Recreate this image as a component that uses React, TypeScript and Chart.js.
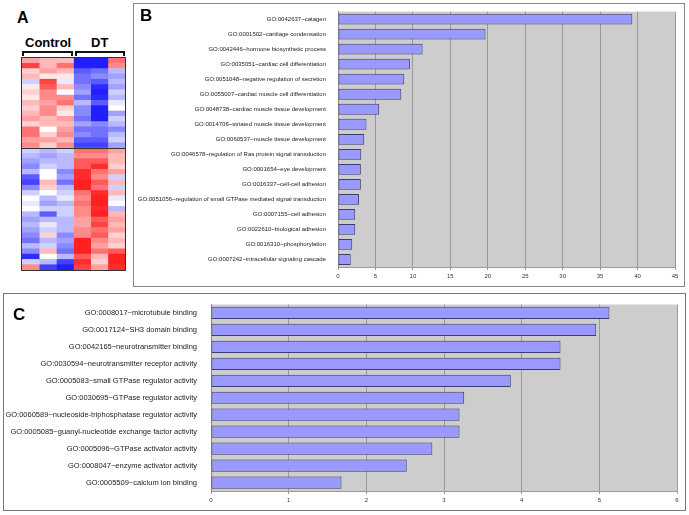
import React, { useEffect, useRef } from "react";
import { Chart, registerables } from "chart.js";
Chart.register(...registerables);

// ---- Panel B data ----
const bLabels = [
  "GO:0042637~catagen",
  "GO:0001502~cartilage condensation",
  "GO:0042446~hormone biosynthetic process",
  "GO:0035051~cardiac cell differentiation",
  "GO:0051048~negative regulation of secretion",
  "GO:0055007~cardiac muscle cell differentiation",
  "GO:0048738~cardiac muscle tissue development",
  "GO:0014706~striated muscle tissue development",
  "GO:0060537~muscle tissue development",
  "GO:0046578~regulation of Ras protein signal transduction",
  "GO:0001654~eye development",
  "GO:0016337~cell-cell adhesion",
  "GO:0051056~regulation of small GTPase mediated signal transduction",
  "GO:0007155~cell adhesion",
  "GO:0022610~biological adhesion",
  "GO:0016310~phosphorylation",
  "GO:0007242~intracellular signaling cascade",
];
const bValues = [39.3, 19.7, 11.3, 9.6, 8.85, 8.45, 5.5, 3.8, 3.5, 3.1, 3.05, 3.05, 2.8, 2.3, 2.3, 1.9, 1.7];
const bMax = 45;
const bStep = 5;

// ---- Panel C data ----
const cLabels = [
  "GO:0008017~microtubule binding",
  "GO:0017124~SH3 domain binding",
  "GO:0042165~neurotransmitter binding",
  "GO:0030594~neurotransmitter receptor activity",
  "GO:0005083~small GTPase regulator activity",
  "GO:0030695~GTPase regulator activity",
  "GO:0060589~nucleoside-triphosphatase regulator activity",
  "GO:0005085~guanyl-nucleotide exchange factor activity",
  "GO:0005096~GTPase activator activity",
  "GO:0008047~enzyme activator activity",
  "GO:0005509~calcium ion binding",
];
const cValues = [5.13, 4.96, 4.5, 4.5, 3.86, 3.26, 3.2, 3.2, 2.85, 2.52, 1.68];
const cMax = 6;
const cStep = 1;

// ---- Panel A heatmap (columns, rows top->bottom; -1 blue .. +1 red) ----
const heatColumns = ["Control 1", "Control 2", "Control 3", "DT 1", "DT 2", "DT 3"];
const control1 = [0.4, 0.8, 0.2, 0.3, -0.2, 0.1, 0.2, 0.1, 0.3, 0.2, 0.3, 0.4, 0.2, 0.6, 0.6, 0.4, 0.5,
  -0.2, -0.3, -0.4, -0.5, -0.3, -0.7, -0.8, -0.5, -0.2, 0, -0.1, 0, -0.3, -0.4, -0.3, -0.4, -0.5, -0.6, -0.3, -0.5, -0.9, -0.2, 0.5];
const control2 = [0.3, 0.3, 0.4, 0.1, 0.8, 0.7, 0.5, 0.5, 0.4, 0.5, 0.5, 0.3, 0.3, 0, 0.2, 0.4, 0.2,
  -0.3, -0.4, -0.3, -0.2, 0, 0, 0.3, 0.2, 0, -0.3, -0.4, -0.2, -0.7, -0.3, -0.1, -0.2, 0.2, -0.3, -0.2, 0.3, 0, -0.3, -0.8];
const control3 = [0.3, 0.6, 0.3, 0.1, -0.1, 0.3, 0, 0.5, 0.6, 0.2, 0.1, 0.4, 0.3, 0.4, 0.5, 0.3, 0.5,
  -0.2, -0.3, -0.3, -0.3, -0.5, -0.4, -0.6, -0.3, -0.2, -0.1, -0.3, -0.2, -0.2, -0.3, -0.3, -0.3, -0.5, -0.4, -0.5, -0.6, -0.3, -0.8, -0.95];
const dt1 = [-0.95, -0.95, -0.7, -0.6, -0.6, -0.5, -0.4, -0.6, -0.3, -0.5, -0.5, -0.6, -0.4, -0.6, -0.5, -0.7, -0.8,
  0.6, 0.5, 0.7, 0.7, 0.9, 0.9, 0.95, 0.95, 0.6, 0.5, 0.6, 0.5, 0.5, 0.4, 0.4, 0.5, 0.5, 0.95, 0.95, 0.95, 0.7, 0.9, 0.8];
const dt2 = [-0.95, -0.95, -0.6, -0.5, -0.7, -0.9, -0.95, -0.9, -0.7, -0.95, -0.95, -0.95, -0.5, -0.6, -0.6, -0.7, -0.8,
  0.6, 0.5, 0.7, 0.9, 0.6, 0.5, 0.7, 0.6, 0.9, 0.95, 0.95, 0.9, 0.95, 0.7, 0.8, 0.6, 0.7, 0.5, 0.4, 0.6, 0.3, 0.2, 0.4];
const dt3 = [0.6, 0.5, -0.3, -0.4, -0.3, -0.4, -0.2, -0.3, -0.1, 0, -0.4, -0.2, -0.3, -0.5, -0.3, -0.2, -0.4,
  0.4, 0.3, 0.3, 0.2, 0.4, -0.2, 0.3, -0.2, 0.3, -0.1, 0, -0.3, 0.3, 0.4, 0.3, 0.4, 0.2, 0.3, 0.2, 0.7, 0.95, 0.95, 0.9];
const heatSplitRow = 17;

const FONT = "'Liberation Sans', Arial, sans-serif";

function heatColor(v: number): string {
  if (v >= 0) {
    const g = Math.round(255 * (1 - v * 0.92));
    return `rgb(255,${g},${g})`;
  }
  const r = Math.round(255 * (1 + v * 0.92));
  return `rgb(${r},${r},255)`;
}

const plotBg = {
  id: "plotBg",
  beforeDraw(chart: any) {
    const { ctx, chartArea } = chart;
    if (!chartArea) return;
    ctx.save();
    ctx.fillStyle = "#cdcdcd";
    ctx.fillRect(chartArea.left, chartArea.top, chartArea.right - chartArea.left, chartArea.bottom - chartArea.top);
    ctx.restore();
  },
};

type HBarProps = {
  labels: string[];
  values: number[];
  max: number;
  step: number;
  width: number;
  height: number;
  yWidth: number;
  padTop: number;
  padRight: number;
  xHeight: number;
  labelSize: number;
  labelPad: number;
};

function HBar(p: HBarProps) {
  const ref = useRef<HTMLCanvasElement>(null);
  useEffect(() => {
    const chart = new Chart(ref.current!, {
      type: "bar",
      data: {
        labels: p.labels,
        datasets: [
          {
            data: p.values,
            backgroundColor: "#9999ff",
            borderColor: "#3c3c70",
            borderWidth: 1,
            borderSkipped: false,
            barPercentage: 0.72,
            categoryPercentage: 1,
          },
        ],
      },
      options: {
        indexAxis: "y",
        animation: false,
        responsive: false,
        layout: { padding: { top: p.padTop, right: p.padRight, left: 0, bottom: 0 } },
        plugins: { legend: { display: false }, tooltip: { enabled: false } },
        scales: {
          x: {
            min: 0,
            max: p.max,
            ticks: { stepSize: p.step, font: { family: FONT, size: 6 }, color: "#333", padding: 3 },
            grid: { color: "#9a9a9a", lineWidth: 1, drawTicks: true, tickLength: 3 },
            border: { color: "#9a9a9a" },
            afterFit: (s: any) => {
              s.height = p.xHeight;
            },
          },
          y: {
            ticks: { font: { family: FONT, size: p.labelSize }, color: "#222", padding: p.labelPad, autoSkip: false },
            grid: { display: false },
            border: { color: "#888" },
            afterFit: (s: any) => {
              s.width = p.yWidth;
            },
          },
        },
      } as any,
      plugins: [plotBg],
    });
    return () => chart.destroy();
  }, []);
  return <canvas ref={ref} width={p.width} height={p.height} style={{ display: "block" }} />;
}

function Heatmap() {
  const ref = useRef<HTMLCanvasElement>(null);
  useEffect(() => {
    const cols = [control1, control2, control3, dt1, dt2, dt3];
    const rowLabels = control1.map((_, i) => String(i + 1));
    const divider = {
      id: "divider",
      afterDatasetsDraw(chart: any) {
        const { ctx, chartArea } = chart;
        const y = chartArea.top + (heatSplitRow / control1.length) * (chartArea.bottom - chartArea.top);
        ctx.save();
        ctx.strokeStyle = "#333";
        ctx.lineWidth = 1;
        ctx.beginPath();
        ctx.moveTo(chartArea.left, Math.round(y) + 0.5);
        ctx.lineTo(chartArea.right, Math.round(y) + 0.5);
        ctx.stroke();
        ctx.restore();
      },
    };
    const chart = new Chart(ref.current!, {
      type: "bar",
      data: {
        labels: rowLabels,
        datasets: cols.map((col, ci) => ({
          label: heatColumns[ci],
          data: col.map(() => 1),
          backgroundColor: col.map(heatColor),
          borderWidth: 0,
          barPercentage: 1,
          categoryPercentage: 1,
        })),
      },
      options: {
        indexAxis: "y",
        animation: false,
        responsive: false,
        layout: { padding: 0 },
        plugins: { legend: { display: false }, tooltip: { enabled: false } },
        scales: {
          x: { stacked: true, min: 0, max: cols.length, display: false },
          y: { stacked: true, display: false },
        },
      } as any,
      plugins: [divider],
    });
    return () => chart.destroy();
  }, []);
  return <canvas ref={ref} width={103} height={212} style={{ display: "block" }} />;
}

const abs = (l: number, t: number, extra: any = {}) => ({ position: "absolute" as const, left: l, top: t, ...extra });

export default function App() {
  const letter = { fontFamily: FONT, fontWeight: "bold", fontSize: 17, lineHeight: 1, color: "#000" };
  return (
    <div style={{ position: "absolute", left: 0, top: 0, width: 689, height: 515, background: "#fff", overflow: "hidden" }}>
      {/* Panel A */}
      <div style={abs(17, 10, { ...letter, fontSize: 16 })}>A</div>
      <div style={abs(25, 36, { fontFamily: FONT, fontWeight: "bold", fontSize: 13, lineHeight: 1 })}>Control</div>
      <div style={abs(91, 36, { fontFamily: FONT, fontWeight: "bold", fontSize: 13, lineHeight: 1 })}>DT</div>
      <div style={abs(22, 51, { width: 47, height: 3, borderTop: "2px solid #111", borderLeft: "2px solid #111", borderRight: "2px solid #111" })} />
      <div style={abs(75, 51, { width: 46, height: 3, borderTop: "2px solid #111", borderLeft: "2px solid #111", borderRight: "2px solid #111" })} />
      <div style={abs(21, 57, { border: "1px solid #333" })}>
        <Heatmap />
      </div>

      {/* Panel B */}
      <div style={abs(133, 3, { width: 550, height: 282, border: "1px solid #888" })}>
        <div style={abs(0, 0)}>
          <HBar labels={bLabels} values={bValues} max={bMax} step={bStep} width={550} height={282}
            yWidth={204} padTop={4} padRight={9} xHeight={19} labelSize={6} labelPad={4} />
        </div>
        <div style={abs(6, 3, letter)}>B</div>
      </div>

      {/* Panel C */}
      <div style={abs(3, 293, { width: 681, height: 216, border: "1px solid #777" })}>
        <div style={abs(0, 0)}>
          <HBar labels={cLabels} values={cValues} max={cMax} step={cStep} width={681} height={216}
            yWidth={207} padTop={3} padRight={8} xHeight={19} labelSize={7.5} labelPad={6} />
        </div>
        <div style={abs(9, 12, letter)}>C</div>
      </div>
    </div>
  );
}
